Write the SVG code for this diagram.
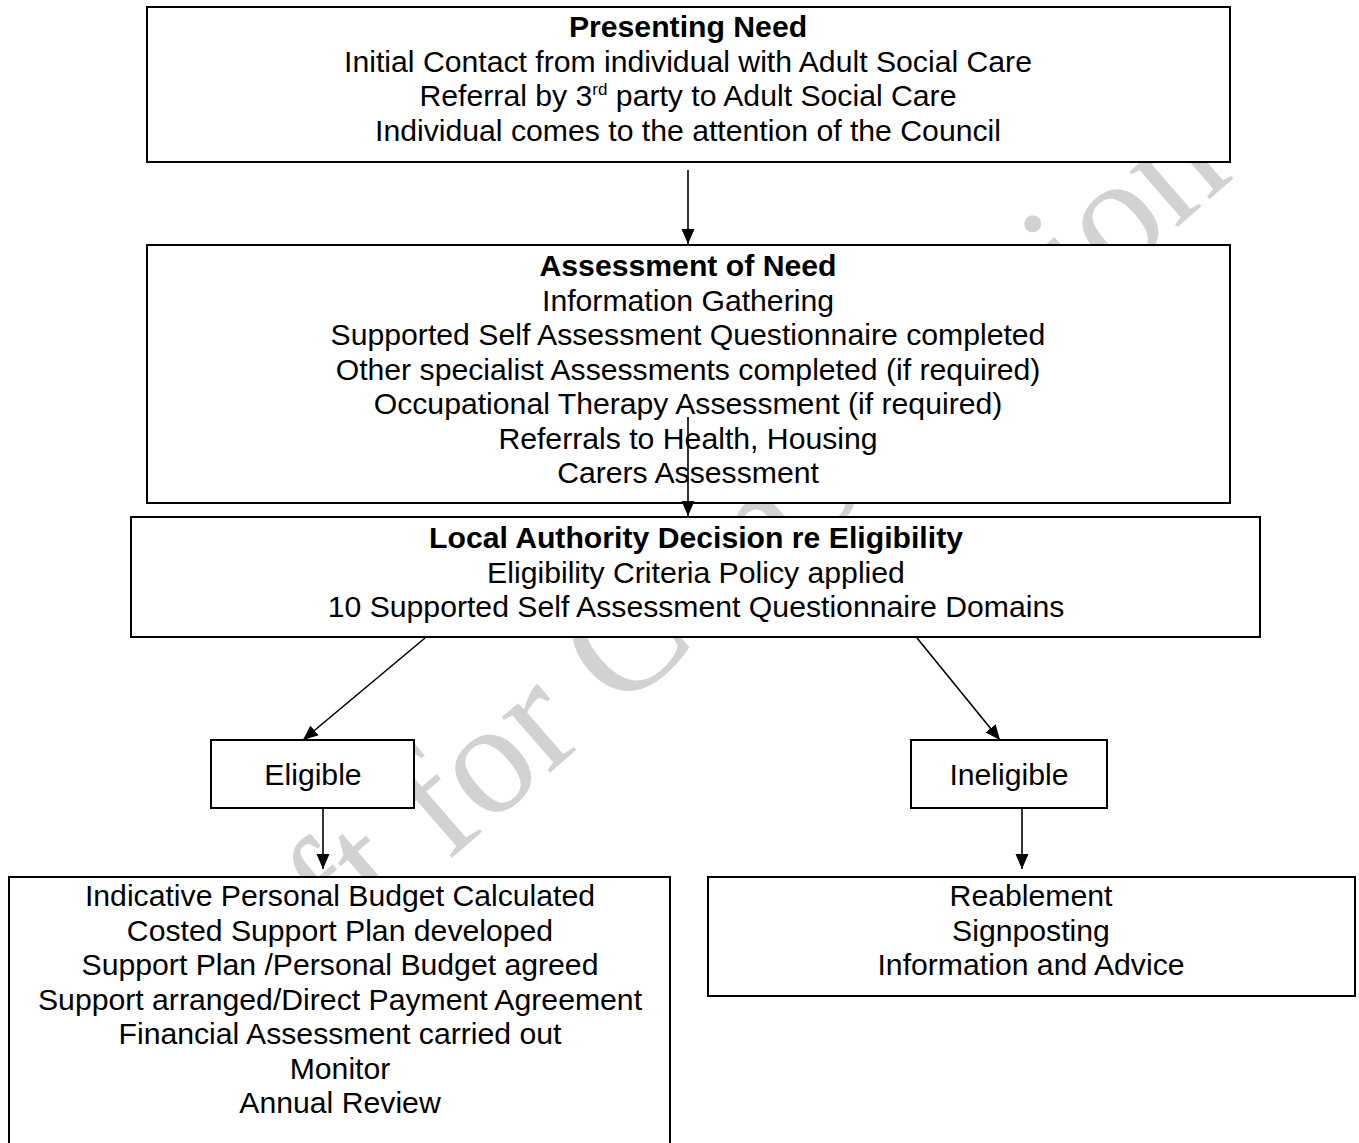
<svg xmlns="http://www.w3.org/2000/svg" width="1359" height="1143" viewBox="0 0 1359 1143">
<style>
.box{fill:#fff;stroke:#000;stroke-width:2}
.t{font-family:"Liberation Sans",Arial,sans-serif;font-size:30.2px;fill:#000;text-anchor:middle}
.b{font-weight:bold}
.c{stroke:#000;stroke-width:1.6;fill:none}
.wm{font-family:"Liberation Serif","Times New Roman",serif;font-size:160px;fill:#d2d2d2}
</style>
<defs>
<marker id="ah" markerUnits="userSpaceOnUse" markerWidth="16" markerHeight="14" refX="15" refY="6.5" orient="auto">
<path d="M0,0 L15,6.5 L0,13 z" fill="#000"/>
</marker>
</defs>
<rect width="1359" height="1143" fill="#fff"/>
<g id="watermark">
<text class="wm" transform="translate(162,1110) rotate(-41)">Draft for Consultation</text>
</g>
<g id="presenting-need">
<rect class="box" x="147" y="7" width="1083" height="155"/>
<text class="t b" x="688" y="37">Presenting Need</text>
<text class="t" x="688" y="72">Initial Contact from individual with Adult Social Care</text>
<text class="t" x="688" y="106">Referral by 3<tspan font-size="17" dy="-11">rd</tspan><tspan dy="11"> party to Adult Social Care</tspan></text>
<text class="t" x="688" y="141">Individual comes to the attention of the Council</text>
</g>
<g id="assessment-of-need">
<rect class="box" x="147" y="245" width="1083" height="258"/>
<text class="t b" x="688" y="276">Assessment of Need</text>
<text class="t" x="688" y="311">Information Gathering</text>
<text class="t" x="688" y="345">Supported Self Assessment Questionnaire completed</text>
<text class="t" x="688" y="380">Other specialist Assessments completed (if required)</text>
<text class="t" x="688" y="414">Occupational Therapy Assessment (if required)</text>
<text class="t" x="688" y="449">Referrals to Health, Housing</text>
<text class="t" x="688" y="483">Carers Assessment</text>
</g>
<g id="la-decision">
<rect class="box" x="131" y="517" width="1129" height="120"/>
<text class="t b" x="696" y="548">Local Authority Decision re Eligibility</text>
<text class="t" x="696" y="583">Eligibility Criteria Policy applied</text>
<text class="t" x="696" y="617">10 Supported Self Assessment Questionnaire Domains</text>
</g>
<g id="eligible">
<rect class="box" x="211" y="740" width="203" height="68"/>
<text class="t" x="313" y="785">Eligible</text>
</g>
<g id="ineligible">
<rect class="box" x="911" y="740" width="196" height="68"/>
<text class="t" x="1009" y="785">Ineligible</text>
</g>
<g id="eligible-outcome">
<rect class="box" x="9" y="877" width="661" height="290"/>
<text class="t" x="340" y="906">Indicative Personal Budget Calculated</text>
<text class="t" x="340" y="941">Costed Support Plan developed</text>
<text class="t" x="340" y="975">Support Plan /Personal Budget agreed</text>
<text class="t" x="340" y="1010">Support arranged/Direct Payment Agreement</text>
<text class="t" x="340" y="1044">Financial Assessment carried out</text>
<text class="t" x="340" y="1079">Monitor</text>
<text class="t" x="340" y="1113">Annual Review</text>
</g>
<g id="ineligible-outcome">
<rect class="box" x="708" y="877" width="647" height="119"/>
<text class="t" x="1031" y="906">Reablement</text>
<text class="t" x="1031" y="941">Signposting</text>
<text class="t" x="1031" y="975">Information and Advice</text>
</g>
<g id="connectors">
<line class="c" x1="688" y1="170" x2="688" y2="244" marker-end="url(#ah)"/>
<line class="c" x1="688" y1="417" x2="688" y2="516" marker-end="url(#ah)"/>
<line class="c" x1="425" y1="638" x2="303" y2="740" marker-end="url(#ah)"/>
<line class="c" x1="917" y1="638" x2="1000" y2="740" marker-end="url(#ah)"/>
<line class="c" x1="323" y1="808" x2="323" y2="869" marker-end="url(#ah)"/>
<line class="c" x1="1022" y1="808" x2="1022" y2="869" marker-end="url(#ah)"/>
</g>
</svg>
